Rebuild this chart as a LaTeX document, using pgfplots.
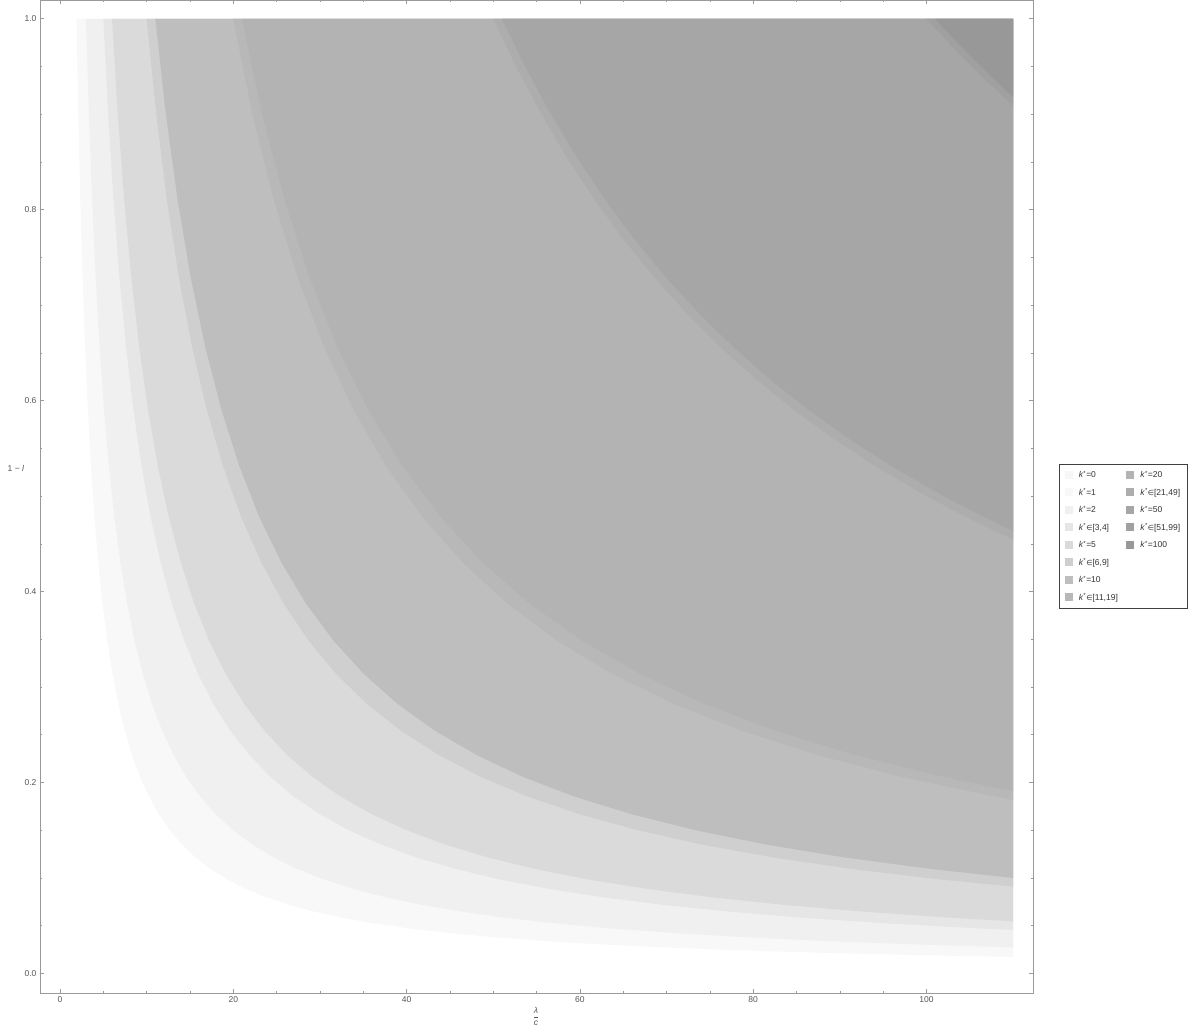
\documentclass[border=0pt]{standalone}
\usepackage{fontspec}
\setmainfont{Liberation Sans}
\newfontfamily\djv{DejaVu Sans}[Scale=0.85]
\usepackage{amsmath}
\usepackage{pgfplots}
\pgfplotsset{compat=1.18}
\definecolor{fr}{HTML}{9A9A9A}
\definecolor{tl}{HTML}{555555}
\definecolor{c0}{HTML}{F7F7F7}
\definecolor{c1}{HTML}{F8F8F8}
\definecolor{c2}{HTML}{F0F0F0}
\definecolor{c34}{HTML}{E6E6E6}
\definecolor{c5}{HTML}{DADADA}
\definecolor{c69}{HTML}{CFCFCF}
\definecolor{c10}{HTML}{BEBEBE}
\definecolor{c1119}{HTML}{B8B8B8}
\definecolor{c20}{HTML}{B3B3B3}
\definecolor{c2149}{HTML}{ADADAD}
\definecolor{c50}{HTML}{A6A6A6}
\definecolor{c5199}{HTML}{A0A0A0}
\definecolor{c100}{HTML}{989898}
\newcommand{\ks}{\textit{k}\textsuperscript{*}}
\newcommand{\kin}{\ks{\djv ∈}}
\begin{document}
\begin{tikzpicture}
\useasboundingbox (-40pt,-41pt) rectangle (1153pt,993pt);
\begin{axis}[
  at={(0pt,0pt)}, anchor=south west,
  scale only axis, width=993pt, height=993pt,
  xmin=-2.31, xmax=112.3, ymin=-0.0205, ymax=1.0197,
  xtick={0,20,40,60,80,100}, ytick={0,0.2,0.4,0.6,0.8,1},
  minor x tick num=3, minor y tick num=3,
  tick align=inside,
  major tick length=4pt, minor tick length=2.5pt,
  tick style={color=fr, line width=0.6pt},
  axis line style={color=fr, line width=0.8pt},
  font=\fontsize{8.5}{10}\selectfont,
  ticklabel style={font=\fontsize{8.5}{10}\selectfont, color=tl},
  /pgf/number format/assume math mode=true,
  yticklabel style={/pgf/number format/.cd, fixed, fixed zerofill, precision=1},
  xlabel={$\dfrac{\text{\itshape λ}}{\text{\itshape c}}$},
  xlabel style={at={(axis description cs:0.4995,-0.0239)}, anchor=center, color=tl},
  ylabel={1 − \textit{l}},
  ylabel style={rotate=-90, at={(axis description cs:-0.0242,0.5287)}, anchor=center, color=tl},
  legend columns=2,
  legend cell align=left,
  legend style={at={(axis description cs:1.0262,0.5327)}, anchor=north west,
    draw=black!75, line width=0.6pt, fill=white,
    font=\fontsize{8.5}{10}\selectfont, text=black!80,
    inner sep=5.5pt, row sep=7.5pt,
    nodes={inner sep=1.5pt, text height=6.5pt, text depth=0.5pt},
    /tikz/every odd column/.append style={column sep=4.5pt},
    /tikz/every even column/.append style={column sep=7pt}},
  sw/.style={legend image code/.code={\fill[##1, draw=none] (0pt,-4pt) rectangle (8pt,4pt);}},
]
% regions to the upper right of each boundary curve (x*y = const), lightest first
\addplot[fill=c1, draw=none, forget plot] coordinates {
(1.9,1) (2.111,0.9) (2.346,0.81) (2.606,0.729) (2.896,0.6561) (3.218,0.5905) (3.575,0.5314) (3.972,0.4783) (4.414,0.4305) (4.904,0.3874) (5.449,0.3487) (6.055,0.3138) (6.727,0.2824) (7.475,0.2542) (8.305,0.2288) (9.228,0.2059) (10.254,0.1853) (11.393,0.1668) (12.659,0.1501) (14.065,0.1351) (15.628,0.1216) (17.364,0.1094) (19.294,0.09848) (21.438,0.08863) (23.820,0.07977) (26.466,0.07179) (29.407,0.06461) (32.674,0.05815) (36.305,0.05233) (40.339,0.0471) (44.821,0.04239) (49.801,0.03815) (55.334,0.03434) (61.482,0.0309) (68.314,0.02781) (75.904,0.02503) (84.338,0.02253) (93.709,0.02028) (104.121,0.01825) (110,0.01727) (110,1)};
\addplot[fill=c2, draw=none, forget plot] coordinates {
(3,1) (3.333,0.9) (3.704,0.81) (4.115,0.729) (4.572,0.6561) (5.081,0.5905) (5.645,0.5314) (6.272,0.4783) (6.969,0.4305) (7.744,0.3874) (8.604,0.3487) (9.560,0.3138) (10.622,0.2824) (11.802,0.2542) (13.114,0.2288) (14.571,0.2059) (16.190,0.1853) (17.989,0.1668) (19.987,0.1501) (22.208,0.1351) (24.676,0.1216) (27.418,0.1094) (30.464,0.09848) (33.849,0.08863) (37.610,0.07977) (41.789,0.07179) (46.432,0.06461) (51.591,0.05815) (57.323,0.05233) (63.693,0.0471) (70.769,0.04239) (78.633,0.03815) (87.370,0.03434) (97.077,0.0309) (107.864,0.02781) (110,0.02727) (110,1)};
\addplot[fill=c34, draw=none, forget plot] coordinates {
(5,1) (5.556,0.9) (6.173,0.81) (6.859,0.729) (7.621,0.6561) (8.468,0.5905) (9.408,0.5314) (10.454,0.4783) (11.615,0.4305) (12.906,0.3874) (14.340,0.3487) (15.933,0.3138) (17.704,0.2824) (19.671,0.2542) (21.856,0.2288) (24.285,0.2059) (26.983,0.1853) (29.981,0.1668) (33.312,0.1501) (37.014,0.1351) (41.126,0.1216) (45.696,0.1094) (50.773,0.09848) (56.415,0.08863) (62.683,0.07977) (69.648,0.07179) (77.386,0.06461) (85.985,0.05815) (95.539,0.05233) (106.154,0.0471) (110,0.04545) (110,1)};
\addplot[fill=c5, draw=none, forget plot] coordinates {
(6,1) (6.667,0.9) (7.407,0.81) (8.230,0.729) (9.145,0.6561) (10.161,0.5905) (11.290,0.5314) (12.545,0.4783) (13.938,0.4305) (15.487,0.3874) (17.208,0.3487) (19.120,0.3138) (21.244,0.2824) (23.605,0.2542) (26.227,0.2288) (29.142,0.2059) (32.380,0.1853) (35.977,0.1668) (39.975,0.1501) (44.416,0.1351) (49.352,0.1216) (54.835,0.1094) (60.928,0.09848) (67.698,0.08863) (75.220,0.07977) (83.577,0.07179) (92.864,0.06461) (103.182,0.05815) (110,0.05455) (110,1)};
\addplot[fill=c69, draw=none, forget plot] coordinates {
(10,1) (11.111,0.9) (12.346,0.81) (13.717,0.729) (15.242,0.6561) (16.935,0.5905) (18.817,0.5314) (20.908,0.4783) (23.231,0.4305) (25.812,0.3874) (28.680,0.3487) (31.866,0.3138) (35.407,0.2824) (39.341,0.2542) (43.712,0.2288) (48.569,0.2059) (53.966,0.1853) (59.962,0.1668) (66.625,0.1501) (74.027,0.1351) (82.253,0.1216) (91.392,0.1094) (101.546,0.09848) (110,0.09091) (110,1)};
\addplot[fill=c10, draw=none, forget plot] coordinates {
(11,1) (12.222,0.9) (13.580,0.81) (15.089,0.729) (16.766,0.6561) (18.629,0.5905) (20.698,0.5314) (22.998,0.4783) (25.554,0.4305) (28.393,0.3874) (31.548,0.3487) (35.053,0.3138) (38.948,0.2824) (43.275,0.2542) (48.084,0.2288) (53.426,0.2059) (59.363,0.1853) (65.958,0.1668) (73.287,0.1501) (81.430,0.1351) (90.478,0.1216) (100.531,0.1094) (110,0.1) (110,1)};
\addplot[fill=c1119, draw=none, forget plot] coordinates {
(20,1) (22.222,0.9) (24.691,0.81) (27.435,0.729) (30.483,0.6561) (33.870,0.5905) (37.634,0.5314) (41.815,0.4783) (46.461,0.4305) (51.624,0.3874) (57.359,0.3487) (63.733,0.3138) (70.814,0.2824) (78.682,0.2542) (87.425,0.2288) (97.139,0.2059) (107.932,0.1853) (110,0.18182) (110,1)};
\addplot[fill=c20, draw=none, forget plot] coordinates {
(21,1) (23.333,0.9) (25.926,0.81) (28.807,0.729) (32.007,0.6561) (35.564,0.5905) (39.515,0.5314) (43.906,0.4783) (48.784,0.4305) (54.205,0.3874) (60.227,0.3487) (66.919,0.3138) (74.355,0.2824) (82.616,0.2542) (91.796,0.2288) (101.996,0.2059) (110,0.19091) (110,1)};
\addplot[fill=c2149, draw=none, forget plot] coordinates {
(50,1) (52.632,0.95) (55.556,0.9) (58.480,0.855) (61.728,0.81) (64.935,0.77) (68.587,0.729) (72.464,0.69) (76.208,0.6561) (80.645,0.62) (84.675,0.5905) (89.286,0.56) (94.084,0.5314) (100,0.5) (104.538,0.4783) (106.383,0.47) (110,0.45455) (110,1)};
\addplot[fill=c50, draw=none, forget plot] coordinates {
(51,1) (53.684,0.95) (56.667,0.9) (59.649,0.855) (62.963,0.81) (66.234,0.77) (69.959,0.729) (73.913,0.69) (77.732,0.6561) (82.258,0.62) (86.369,0.5905) (91.071,0.56) (95.966,0.5314) (102,0.5) (106.629,0.4783) (110,0.46364) (110,1)};
\addplot[fill=c5199, draw=none, forget plot] coordinates {
(100,1) (102.04,0.98) (104.17,0.96) (106.38,0.94) (108.70,0.92) (110,0.90909) (110,1)};
\addplot[fill=c100, draw=none, forget plot] coordinates {
(101,1) (103.06,0.98) (105.21,0.96) (107.45,0.94) (110,0.91818) (110,1)};
% legend (row-major, two columns)
\addlegendimage{sw, fill=c0}\addlegendentry{\ks=0}
\addlegendimage{sw, fill=c20}\addlegendentry{\ks=20}
\addlegendimage{sw, fill=c1}\addlegendentry{\ks=1}
\addlegendimage{sw, fill=c2149}\addlegendentry{\kin[21,49]}
\addlegendimage{sw, fill=c2}\addlegendentry{\ks=2}
\addlegendimage{sw, fill=c50}\addlegendentry{\ks=50}
\addlegendimage{sw, fill=c34}\addlegendentry{\kin[3,4]}
\addlegendimage{sw, fill=c5199}\addlegendentry{\kin[51,99]}
\addlegendimage{sw, fill=c5}\addlegendentry{\ks=5}
\addlegendimage{sw, fill=c100}\addlegendentry{\ks=100}
\addlegendimage{sw, fill=c69}\addlegendentry{\kin[6,9]}
\addlegendimage{empty legend}\addlegendentry{}
\addlegendimage{sw, fill=c10}\addlegendentry{\ks=10}
\addlegendimage{empty legend}\addlegendentry{}
\addlegendimage{sw, fill=c1119}\addlegendentry{\kin[11,19]}
\end{axis}
\end{tikzpicture}
\end{document}
